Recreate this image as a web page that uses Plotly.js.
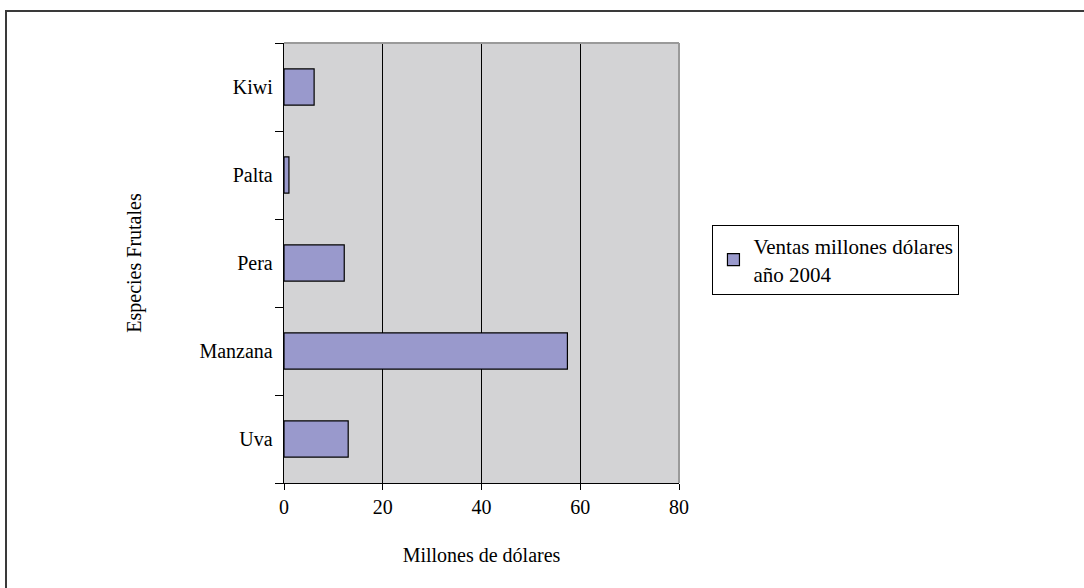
<!DOCTYPE html>
<html>
<head>
<meta charset="utf-8">
<script src="https://cdn.plot.ly/plotly-3.0.1.min.js"></script>
<style>
  html, body { margin: 0; padding: 0; background: #ffffff; }
  #wrap { position: relative; width: 1084px; height: 588px; overflow: hidden; }
  #chart { position: absolute; left: 0; top: 0; width: 1084px; height: 588px; }
  #frame { position: absolute; left: 5px; top: 10px; width: 1100px; height: 600px;
           border: 2px solid #3a3a3a; box-sizing: border-box; pointer-events: none; }
</style>
</head>
<body>
<div id="wrap">
  <div id="chart"></div>
  <div id="frame"></div>
</div>
<script>
// Data
const categories = ["Uva", "Manzana", "Pera", "Palta", "Kiwi"];
const ventas2004 = [13.0, 57.4, 12.2, 1.0, 6.1];
const seriesName = "Ventas millones dólares<br>año 2004";
const xTickValues = [0, 20, 40, 60, 80];

const serif = "'Liberation Serif', 'Times New Roman', Times, serif";

const trace = {
  type: "bar",
  orientation: "h",
  y: categories,
  x: ventas2004,
  name: seriesName,
  marker: { color: "#9999cc", line: { color: "#000000", width: 1.2 } },
  hoverinfo: "x+y"
};

const plotLeft = 284, plotRight = 679.5, plotTop = 43, plotBottom = 483.3;

const layout = {
  width: 1084,
  height: 588,
  margin: { l: plotLeft, r: 1084 - plotRight, t: plotTop, b: 588 - plotBottom, pad: 0 },
  paper_bgcolor: "#ffffff",
  plot_bgcolor: "#d3d3d5",
  font: { family: serif, size: 20, color: "#000000" },
  bargap: 0.59,
  showlegend: true,
  legend: {
    x: (713 - plotLeft) / (plotRight - plotLeft),
    y: (plotBottom - 225) / (plotBottom - plotTop),
    xanchor: "left",
    yanchor: "top",
    bgcolor: "#ffffff",
    bordercolor: "#000000",
    borderwidth: 1,
    font: { family: serif, size: 21, color: "#000000" },
    itemwidth: 30,
    entrywidth: 232,
    entrywidthmode: "pixels"
  },
  xaxis: {
    range: [0, 80],
    tickvals: xTickValues,
    ticktext: xTickValues.map(String),
    showgrid: true,
    gridcolor: "#000000",
    gridwidth: 1,
    zeroline: false,
    showline: true,
    linecolor: "#000000",
    linewidth: 1.3,
    ticks: "outside",
    ticklen: 6,
    tickcolor: "#000000",
    tickfont: { family: serif, size: 20 },
    title: { text: "Millones de dólares", font: { family: serif, size: 20 }, standoff: 30 },
    fixedrange: true
  },
  yaxis: {
    type: "category",
    categoryorder: "array",
    categoryarray: categories,
    showgrid: false,
    zeroline: false,
    showline: true,
    linecolor: "#000000",
    linewidth: 1.3,
    ticks: "outside",
    tickson: "boundaries",
    ticklen: 8,
    ticklabelstandoff: 6,
    tickcolor: "#000000",
    tickfont: { family: serif, size: 20 },
    title: { text: "Especies Frutales", font: { family: serif, size: 20 }, standoff: 52 },
    fixedrange: true
  },
  shapes: [
    { type: "line", xref: "paper", yref: "paper", x0: 0, x1: 1, y0: 1, y1: 1,
      line: { color: "#9a9a9a", width: 2 }, layer: "above" },
    { type: "line", xref: "paper", yref: "paper", x0: 1, x1: 1, y0: 0, y1: 1,
      line: { color: "#9a9a9a", width: 2 }, layer: "above" }
  ]
};

Plotly.newPlot("chart", [trace], layout, { displayModeBar: false, staticPlot: true });
</script>
</body>
</html>
